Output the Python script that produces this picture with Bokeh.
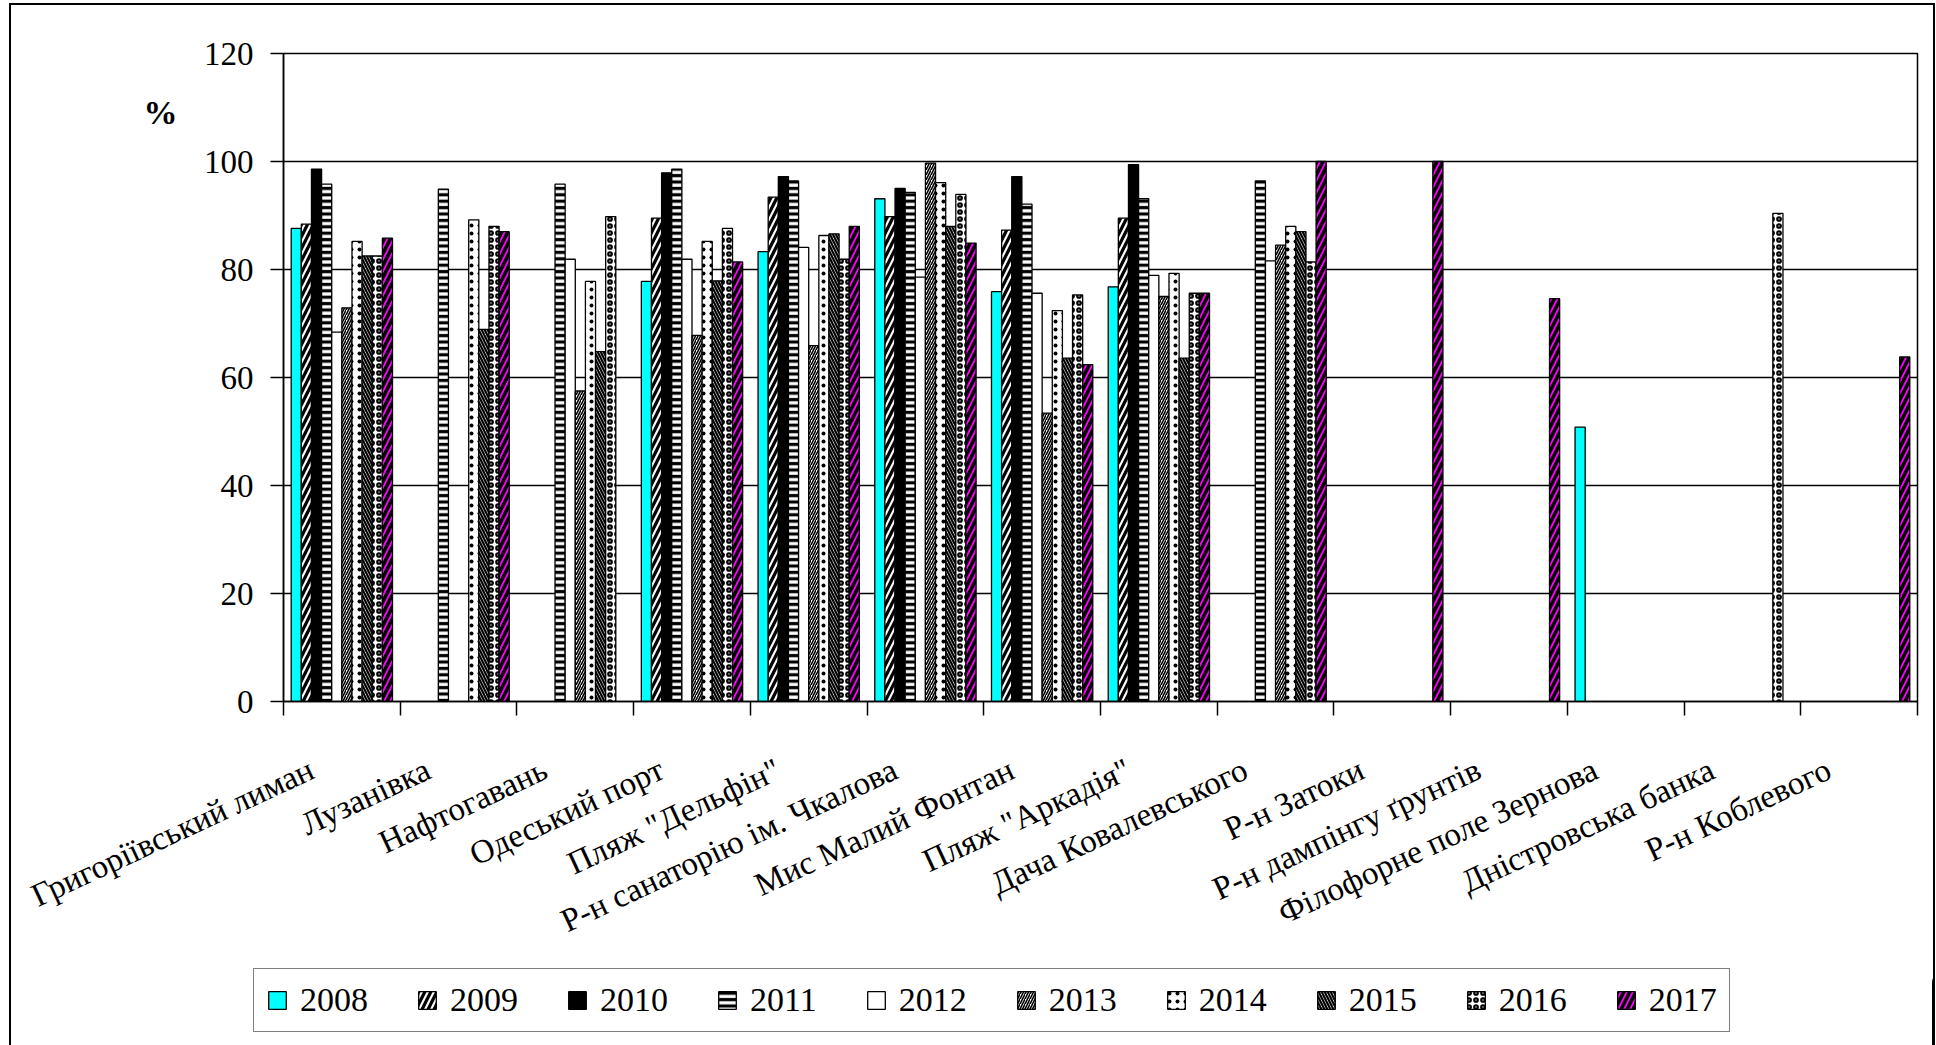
import math

from bokeh.embed import file_html
from bokeh.layouts import column
from bokeh.models import (ColumnDataSource, CustomJSTickFormatter, FixedTicker,
                          Legend, LegendItem, LinearAxis, Range1d)
from bokeh.plotting import figure
from bokeh.resources import INLINE
from bokeh.transform import dodge

# ---- data -----------------------------------------------------------------
sites = [
    "Григоріївський лиман",
    "Лузанівка",
    "Нафтогавань",
    "Одеський порт",
    "Пляж \"Дельфін\"",
    "Р-н санаторію ім. Чкалова",
    "Мис Малий Фонтан",
    "Пляж \"Аркадія\"",
    "Дача Ковалевського",
    "Р-н Затоки",
    "Р-н дампінгу ґрунтів",
    "Філофорне поле Зернова",
    "Дністровська банка",
    "Р-н Коблевого",
]

years = ["2008", "2009", "2010", "2011", "2012",
         "2013", "2014", "2015", "2016", "2017"]

v2008 = [87.6, None, None, 77.8, 83.3, 93.1, 75.9, 76.8, None, None, None, 50.8, None, None]
v2009 = [88.4, None, None, 89.5, 93.4, 89.8, 87.3, 89.5, None, None, None, None, None, None]
v2010 = [98.6, None, None, 97.9, 97.2, 95.0, 97.2, 99.4, None, None, None, None, None, None]
v2011 = [95.8, 94.9, 95.8, 98.6, 96.4, 94.3, 92.1, 93.1, 96.4, None, None, None, None, None]
v2012 = [68.4, None, 81.9, 81.9, 84.1, 78.6, 75.6, 78.9, 81.6, None, None, None, None, None]
v2013 = [72.9, None, 57.5, 67.8, 65.9, 99.7, 53.4, 75.0, 84.5, None, None, None, None, None]
v2014 = [85.2, 89.2, 77.8, 85.2, 86.3, 96.1, 72.4, 79.3, 88.0, None, None, None, None, None]
v2015 = [82.5, 68.9, 64.8, 77.9, 86.6, 88.0, 63.6, 63.6, 87.0, None, None, None, None, None]
v2016 = [82.5, 88.0, 89.8, 87.6, 81.9, 93.9, 75.3, 75.6, 81.4, None, None, None, 90.4, None]
v2017 = [85.8, 87.0, None, 81.4, 88.0, 84.9, 62.4, 75.6, 100.0, 100.0, 74.6, None, None, 63.8]

series = [v2008, v2009, v2010, v2011, v2012, v2013, v2014, v2015, v2016, v2017]

y_ticks = [0, 20, 40, 60, 80, 100, 120]
unit_text = "%"

# ---- appearance -------------------------------------------------------------
FONT = "'Liberation Serif', 'Times New Roman', serif"
BAR_W = 0.0868          # width of one bar, in category units
LABEL_SHIFT = -0.26     # category labels sit a little left of the group centre
LABEL_ANGLE = math.radians(25)
UNIT_Y = 109.1          # height at which the unit sign is written

# fill colour, hatch pattern, hatch tile size, hatch line weight
bar_styles = [
    ("#00FFFF", None, 1, 1),
    ("white", "/", 12, 3.2),
    ("black", None, 1, 1),
    ("white", "-", 6.4, 3.2),
    ("white", None, 1, 1),
    ("white", "/", 5, 1.6),
    ("white", ".", 8, 1.2),
    ("white", "\\", 6, 2.2),
    ("white", "o", 7, 2.2),
    ("#FF00FF", "/", 12, 3.6),
]


def bar_visuals(j):
    fill, pattern, scale, weight = bar_styles[j]
    kw = dict(fill_color=fill, line_color="black", line_width=1.3)
    if pattern is not None:
        kw.update(hatch_pattern=pattern, hatch_color="black",
                  hatch_scale=scale, hatch_weight=weight, hatch_alpha=1.0)
    return kw


n = len(sites)
# each site occupies one unit on the x scale; groups are centred on i + 0.5
site_pos = [i + 0.5 for i in range(n)]

MAIN_H = 960
LEG_H = 80

p = figure(
    width=1922, height=MAIN_H,
    x_range=Range1d(0, n),
    y_range=Range1d(0, 120),
    output_backend="svg",
    toolbar_location=None,
    min_border_left=272, min_border_right=16,
    min_border_top=48, min_border_bottom=MAIN_H - 696,
    background_fill_color="white", border_fill_color="white",
)
p.frame_align = False

p.outline_line_color = "black"
p.outline_line_width = 1.5

# horizontal grid only
p.xgrid.visible = False
p.ygrid.grid_line_color = "black"
p.ygrid.grid_line_width = 1.5
p.ygrid.ticker = FixedTicker(ticks=y_ticks)

# y axis
yax = p.yaxis[0]
yax.ticker = FixedTicker(ticks=y_ticks)
yax.axis_line_color = "black"
yax.axis_line_width = 1.5
yax.major_tick_line_color = "black"
yax.major_tick_line_width = 1.5
yax.major_tick_out = 13
yax.major_tick_in = 0
yax.minor_tick_line_color = None
yax.major_label_text_font = FONT
yax.major_label_text_font_size = "33px"
yax.major_label_text_color = "black"
yax.major_label_standoff = 17

# unit sign, written as a lone tick label on a bare second axis
unit_ax = LinearAxis(
    ticker=FixedTicker(ticks=[UNIT_Y]),
    formatter=CustomJSTickFormatter(args=dict(t=unit_text), code="return t"),
)
unit_ax.axis_line_color = None
unit_ax.major_tick_line_color = None
unit_ax.minor_tick_line_color = None
unit_ax.major_tick_out = 0
unit_ax.major_tick_in = 0
unit_ax.major_label_standoff = 23
unit_ax.major_label_text_font = FONT
unit_ax.major_label_text_font_size = "34px"
unit_ax.major_label_text_font_style = "bold"
unit_ax.major_label_text_color = "black"
p.add_layout(unit_ax, "left")

# x axis: boundary ticks between sites, slanted site names
xax = p.xaxis[0]
xax.ticker = FixedTicker(ticks=[x + LABEL_SHIFT for x in site_pos],
                         minor_ticks=list(range(n + 1)))
xax.formatter = CustomJSTickFormatter(args=dict(names=sites),
                                      code="return names[Math.floor(tick)] || ''")
xax.axis_line_color = "black"
xax.axis_line_width = 1.5
xax.major_tick_line_color = None
xax.major_tick_out = 0
xax.major_tick_in = 0
xax.minor_tick_line_color = "black"
xax.minor_tick_line_width = 1.5
xax.minor_tick_out = 14
xax.minor_tick_in = 0
xax.major_label_orientation = LABEL_ANGLE
xax.major_label_standoff = 52
xax.major_label_text_font = FONT
xax.major_label_text_font_size = "33px"
xax.major_label_text_color = "black"

# bars
sources = []
for j, (yr, vals) in enumerate(zip(years, series)):
    src = ColumnDataSource(dict(
        pos=[x for x, v in zip(site_pos, vals) if v is not None],
        site=[s for s, v in zip(sites, vals) if v is not None],
        pct=[v for v in vals if v is not None],
    ))
    sources.append(src)
    p.vbar(x=dodge("pos", (j - 4.5) * BAR_W),
           top="pct", bottom=0, width=BAR_W, source=src, **bar_visuals(j))

# ---- legend strip below the chart -----------------------------------------
# the strip reuses the bar sources; its own x range lies outside the data,
# so only the legend swatches show
lg = figure(
    width=1922, height=LEG_H,
    x_range=Range1d(-2, -1), y_range=Range1d(0, 120),
    x_axis_location=None, y_axis_location=None,
    output_backend="svg", toolbar_location=None,
    min_border=0, min_border_left=0, min_border_right=0,
    min_border_top=0, min_border_bottom=0,
    background_fill_color="white", border_fill_color="white",
)
lg.frame_align = False
lg.outline_line_color = None
lg.grid.visible = False

items = []
for j, (yr, src) in enumerate(zip(years, sources)):
    swatch = lg.vbar(x=dodge("pos", (j - 4.5) * BAR_W), top="pct", bottom=0,
                     width=BAR_W, source=src, **bar_visuals(j))
    items.append(LegendItem(label=yr, renderers=[swatch]))

legend = Legend(
    items=items,
    orientation="horizontal",
    location=(242, 13),
    glyph_width=22, glyph_height=22,
    label_standoff=12,
    spacing=48,
    padding=12,
    margin=0,
    label_text_font=FONT,
    label_text_font_size="34px",
    label_text_color="black",
    border_line_color="black",
    border_line_width=1.5,
    background_fill_color="white",
    background_fill_alpha=1.0,
)
lg.add_layout(legend)

page = column(p, lg, spacing=0)
page.margin = (5, 3, 0, 11)
page.styles = {"outline": "2px solid black"}

open("out.html", "w").write(file_html(page, INLINE))
